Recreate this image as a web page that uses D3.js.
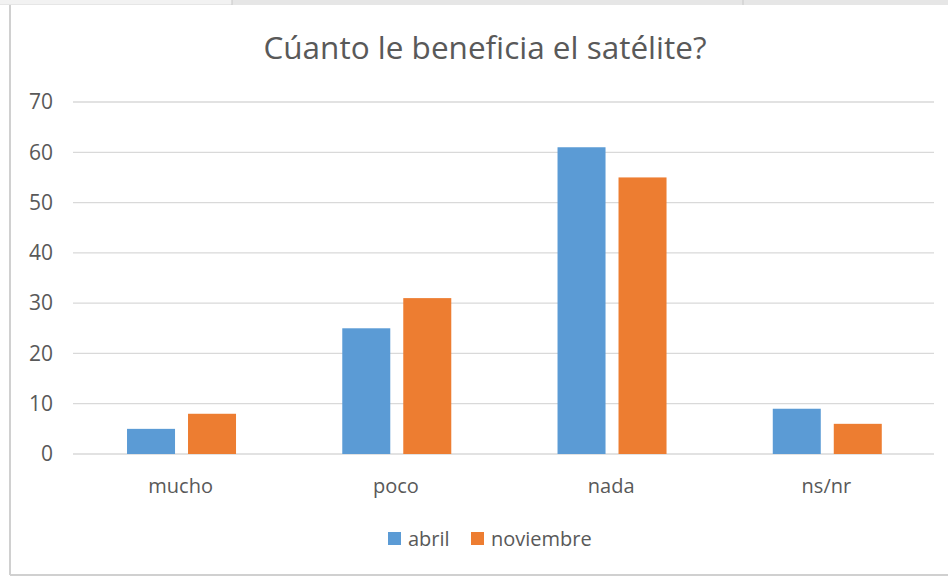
<!DOCTYPE html>
<html><head><meta charset="utf-8">
<script src="https://cdn.jsdelivr.net/npm/d3@7"></script>
<style>body{margin:0;background:#fff;} svg{display:block;}</style>
</head><body>
<svg id="c" width="948" height="577"></svg>
<script>
const categories = ["mucho", "poco", "nada", "ns/nr"];
const seriesNames = ["abril", "noviembre"];
const abril = [5, 25, 61, 9];
const noviembre = [8, 31, 55, 6];
const yTicks = [0, 10, 20, 30, 40, 50, 60, 70];
const title = "Cúanto le beneficia el satélite?";
const colors = ["#5B9BD5", "#ED7D31"];

const svg = d3.select("#c");
const font = "Open Sans, Noto Sans, sans-serif";
// window chrome
svg.append("rect").attr("x",0).attr("y",0).attr("width",948).attr("height",5).attr("fill","#e6e6e6");
svg.append("rect").attr("x",0).attr("y",0).attr("width",232).attr("height",4).attr("fill","#f2f2f2");
[232,743].forEach(x=>svg.append("line").attr("x1",x).attr("x2",x).attr("y1",0).attr("y2",5).attr("stroke","#c8c8c8"));
svg.append("line").attr("x1",10).attr("x2",10).attr("y1",5).attr("y2",575).attr("stroke","#d0d0d0").attr("stroke-width",2);
svg.append("line").attr("x1",10).attr("x2",948).attr("y1",575).attr("y2",575).attr("stroke","#d0d0d0").attr("stroke-width",2);

const pLeft = 73, pRight = 934, pTop = 102, pBottom = 454;
const y = d3.scaleLinear().domain([0, 70]).range([pBottom, pTop]);
const x0 = d3.scaleBand().domain(categories).range([pLeft, pRight]);
const groupW = 109;
const x1 = d3.scaleBand().domain(seriesNames).range([0, groupW]).paddingInner(0.213);

const grid = svg.append("g");
grid.selectAll("line").data(yTicks).join("line")
  .attr("x1", pLeft).attr("x2", pRight)
  .attr("y1", d => y(d)).attr("y2", d => y(d))
  .attr("stroke", "#d9d9d9").attr("stroke-width", 1.3);

const yAxis = d3.axisLeft(y).tickValues(yTicks).tickSize(0).tickPadding(20);
const ya = svg.append("g").attr("transform", `translate(${pLeft},0)`).call(yAxis);
ya.select(".domain").remove();
ya.selectAll("text").attr("font-family", font).attr("font-size", 21).attr("fill", "#595959");

const data = categories.map((c, i) => ({c, vals: [abril[i], noviembre[i]]}));
const groups = svg.append("g").selectAll("g").data(data).join("g")
  .attr("transform", d => `translate(${x0(d.c) + x0.bandwidth()/2 - groupW/2 + 0.9},0)`);
groups.selectAll("rect").data(d => d.vals.map((v, j) => ({v, s: seriesNames[j], j})))
  .join("rect")
  .attr("x", d => x1(d.s)).attr("width", x1.bandwidth())
  .attr("y", d => y(d.v)).attr("height", d => y(0) - y(d.v))
  .attr("fill", d => colors[d.j]);

const xAxis = d3.axisBottom(x0).tickSize(0).tickPadding(25);
const xa = svg.append("g").attr("transform", `translate(0,${pBottom})`).call(xAxis);
xa.select(".domain").remove();
xa.selectAll("text").attr("font-family", font).attr("font-size", 20).attr("fill", "#595959");

svg.append("text").attr("x", 485).attr("y", 59).attr("text-anchor", "middle")
  .attr("font-family", font).attr("font-size", 31.5).attr("fill", "#595959").text(title);

const legX = [388, 471];
seriesNames.forEach((s, j) => {
  svg.append("rect").attr("x", legX[j]).attr("y", 532).attr("width", 13).attr("height", 13).attr("fill", colors[j]);
  svg.append("text").attr("x", legX[j] + 20).attr("y", 546).attr("font-family", font)
    .attr("font-size", 20).attr("fill", "#595959").text(s);
});
</script>
</body></html>
